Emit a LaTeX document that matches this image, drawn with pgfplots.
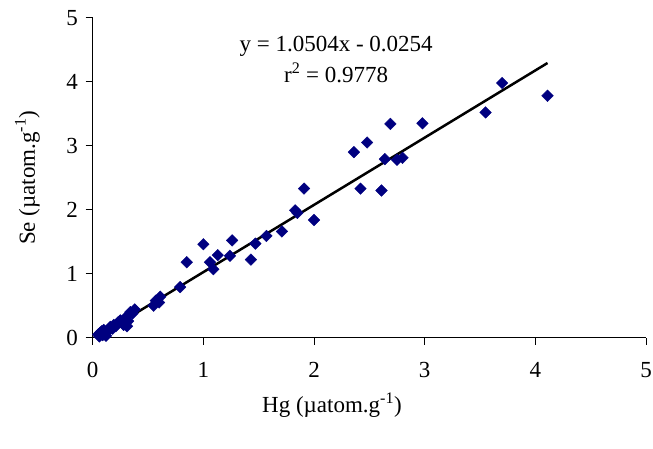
\documentclass[border=0pt]{standalone}
\usepackage{fontspec}
\setmainfont{Liberation Serif}
\usepackage{pgfplots}
\pgfplotsset{compat=1.18}
\definecolor{navy}{RGB}{0,0,128}
\begin{document}
\fontsize{23}{27}\selectfont
\begin{tikzpicture}
\path[use as bounding box] (-92.7pt,-110.3pt) rectangle (560.3pt,337.7pt);
\begin{axis}[
  at={(0pt,0pt)}, anchor=south west,
  scale only axis, width=553.3pt, height=320pt,
  xmin=0, xmax=5, ymin=0, ymax=5,
  xtick={0,1,2,3,4,5}, ytick={0,1,2,3,4,5},
  axis lines*=left,
  axis line style={black, line width=0.8pt},
  tick align=outside, major tick length=7pt,
  tick style={black, line width=0.8pt},
  /pgf/number format/assume math mode=true,
  tick label style={font=\fontsize{23}{27}\selectfont},
  xticklabel style={yshift=-10pt},
  label style={font=\fontsize{23}{27}\selectfont},
  xlabel={Hg (µatom.g\textsuperscript{-1})},
  ylabel={Se (µatom.g\textsuperscript{-1})},
  xlabel style={at={(axis description cs:0.4325,-0.21)}, anchor=center},
  ylabel style={at={(axis description cs:-0.118,0.5)}, anchor=center},
  clip=false,
]
\addplot[black, line width=2.5pt] coordinates {(0.05,0.027) (4.11,4.292)};
\addplot[only marks, mark=square*, mark size=4.1pt, mark options={rotate=45, fill=navy, draw=navy}] coordinates {
(0.05,0.05) (0.06,0.02) (0.07,0.08) (0.08,0.10) (0.09,0.04) (0.10,0.12) (0.11,0.06) (0.12,0.03)
(0.13,0.09) (0.15,0.12) (0.16,0.17) (0.18,0.14) (0.19,0.20) (0.21,0.18) (0.23,0.24) (0.25,0.27)
(0.28,0.20) (0.29,0.30) (0.31,0.33) (0.31,0.18) (0.32,0.26) (0.34,0.40) (0.36,0.38) (0.38,0.44)
(0.55,0.50) (0.57,0.58) (0.60,0.55) (0.61,0.64)
(0.79,0.79) (0.85,1.18) (1.00,1.46) (1.06,1.18) (1.09,1.07) (1.13,1.29) (1.24,1.28) (1.26,1.52)
(1.43,1.22) (1.47,1.47) (1.57,1.59) (1.71,1.66) (1.83,1.99) (1.85,1.95) (1.91,2.33) (2.00,1.84)
(2.36,2.90) (2.42,2.33) (2.48,3.05) (2.61,2.30) (2.64,2.79) (2.69,3.34) (2.75,2.78) (2.80,2.81)
(2.98,3.35) (3.55,3.52) (3.70,3.98) (4.11,3.78)
};
\node[align=center, font=\fontsize{23}{31}\selectfont, anchor=north] at (axis cs:2.2,4.84) {y = 1.0504x - 0.0254\\r\textsuperscript{2} = 0.9778};
\end{axis}
\end{tikzpicture}
\end{document}
